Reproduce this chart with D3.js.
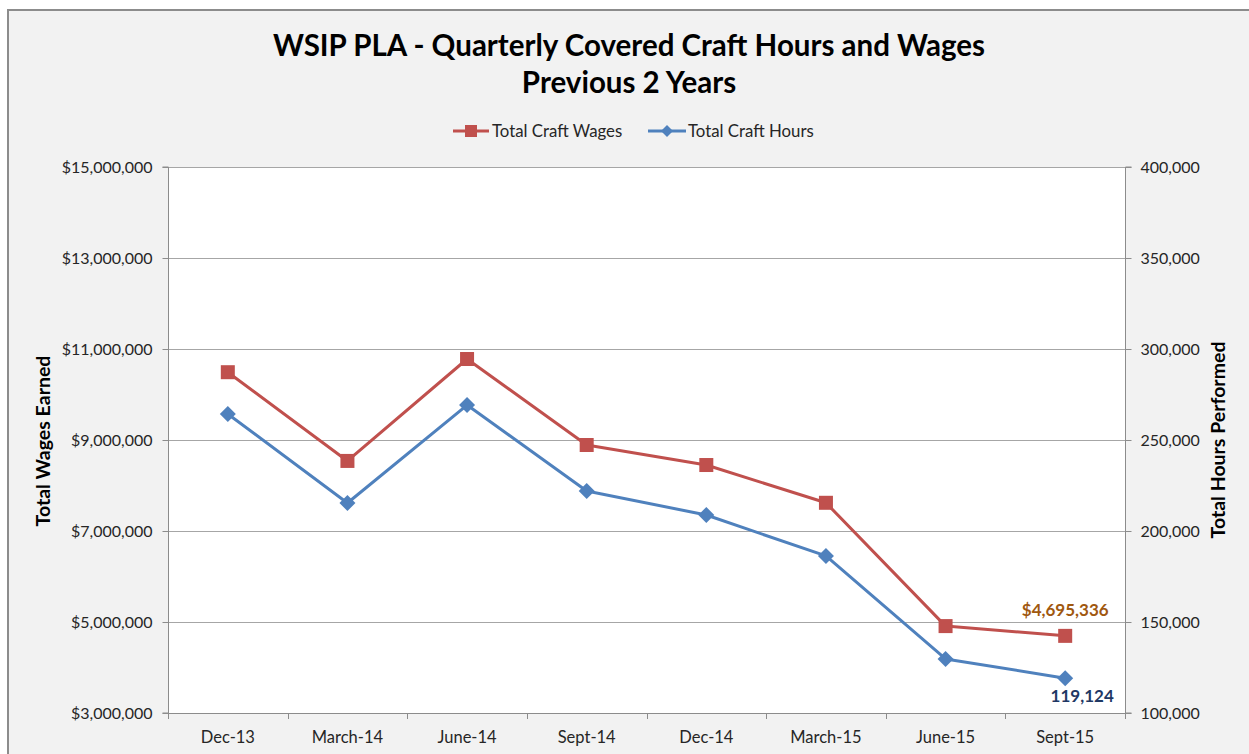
<!DOCTYPE html>
<html><head><meta charset="utf-8">
<script src="https://cdn.jsdelivr.net/npm/d3@7"></script>
<style>body{margin:0;background:#fff;} svg{display:block;}</style>
</head><body>
<svg id="c" width="1249" height="754"></svg>
<script>
const categories = ["Dec-13","March-14","June-14","Sept-14","Dec-14","March-15","June-15","Sept-15"];
const wages = [10490000, 8540000, 10780000, 8890000, 8450000, 7620000, 4910000, 4695336];
const hours = [264300, 215400, 269200, 222000, 208800, 186300, 129700, 119124];
const wageTicks = [3000000,5000000,7000000,9000000,11000000,13000000,15000000];
const hourTicks = [100000,150000,200000,250000,300000,350000,400000];

const FONT = "Lato, 'Open Sans', sans-serif";
const svg = d3.select("#c");
const m = {l:168, r:1125, t:167, b:713};

// background
svg.append("rect").attr("x",8).attr("y",10).attr("width",1241).attr("height",744).attr("fill","#f2f2f2");
svg.append("line").attr("x1",7).attr("x2",1249).attr("y1",10).attr("y2",10).attr("stroke","#8c8c8c").attr("stroke-width",2);
svg.append("line").attr("x1",8).attr("x2",8).attr("y1",9).attr("y2",754).attr("stroke","#8c8c8c").attr("stroke-width",2);

svg.append("rect").attr("x",m.l).attr("y",m.t).attr("width",m.r-m.l).attr("height",m.b-m.t).attr("fill","#fff");

const x = d3.scaleBand().domain(categories).range([m.l,m.r]);
const yL = d3.scaleLinear().domain([3000000,15000000]).range([m.b,m.t]);
const yR = d3.scaleLinear().domain([100000,400000]).range([m.b,m.t]);

// gridlines
svg.append("g").selectAll("line").data(wageTicks).join("line")
  .attr("x1",m.l).attr("x2",m.r).attr("y1",d=>Math.round(yL(d))+0.5).attr("y2",d=>Math.round(yL(d))+0.5)
  .attr("stroke","#a6a6a6").attr("stroke-width",1);

// axes
const axL = svg.append("g").attr("transform",`translate(${m.l+0.5},0)`)
  .call(d3.axisLeft(yL).tickValues(wageTicks).tickSize(6).tickPadding(10).tickFormat(d=>"$"+d3.format(",")(d)));
const axR = svg.append("g").attr("transform",`translate(${m.r+0.5},0)`)
  .call(d3.axisRight(yR).tickValues(hourTicks).tickSize(6).tickPadding(9).tickFormat(d3.format(",")));
const axB = svg.append("g").attr("transform",`translate(0,${m.b+0.5})`)
  .call(d3.axisBottom(x).tickSize(0).tickPadding(18));
[axL,axR,axB].forEach(a=>{
  a.selectAll("path").attr("stroke","#8c8c8c");
  a.selectAll("line").attr("stroke","#8c8c8c");
  a.selectAll("text").attr("font-family",FONT).attr("font-size",16).attr("fill","#262626");
});
axB.selectAll("text").attr("font-size",16.5);
axL.select("path").attr("d",`M-6,${m.t}H0V${m.b}H-6`);
axR.select("path").attr("d",`M6,${m.t}H0V${m.b}H6`);
axB.select("path").attr("d",`M${m.l},0H${m.r}`);
// category boundary ticks
const bounds = categories.map(c=>x(c)).concat([m.r]);
svg.append("g").selectAll("line").data(bounds).join("line")
  .attr("x1",d=>Math.round(d)+0.5).attr("x2",d=>Math.round(d)+0.5).attr("y1",m.b).attr("y2",m.b+6)
  .attr("stroke","#8c8c8c");

const cx = d => x(d)+x.bandwidth()/2;
const red = "#c0504d", blue = "#4f81bd";

// lines
svg.append("path").datum(wages.map((v,i)=>[cx(categories[i]),yL(v)]))
  .attr("d",d3.line()).attr("fill","none").attr("stroke",red).attr("stroke-width",3).attr("stroke-linejoin","round");
svg.append("path").datum(hours.map((v,i)=>[cx(categories[i]),yR(v)]))
  .attr("d",d3.line()).attr("fill","none").attr("stroke",blue).attr("stroke-width",3).attr("stroke-linejoin","round");

// markers
svg.append("g").selectAll("rect").data(wages).join("rect")
  .attr("x",(d,i)=>cx(categories[i])-7).attr("y",d=>yL(d)-7).attr("width",14).attr("height",14).attr("fill",red);
svg.append("g").selectAll("path").data(hours).join("path")
  .attr("transform",(d,i)=>`translate(${cx(categories[i])},${yR(d)})`)
  .attr("d","M0,-8L8,0L0,8L-8,0Z").attr("fill",blue);

// data labels
const last = categories.length-1;
svg.append("text").attr("x",cx(categories[last])).attr("y",yL(wages[last])-20)
  .attr("text-anchor","middle").attr("font-family",FONT).attr("font-weight","bold").attr("font-size",17)
  .attr("fill","#a0580f").text("$"+d3.format(",")(wages[last]));
svg.append("text").attr("x",cx(categories[last])+17).attr("y",yR(hours[last])+24)
  .attr("text-anchor","middle").attr("font-family",FONT).attr("font-weight","bold").attr("font-size",17)
  .attr("fill","#1f3864").text(d3.format(",")(hours[last]));

// title
svg.append("text").attr("x",629).attr("y",56).attr("text-anchor","middle").attr("font-family",FONT)
  .attr("font-weight","bold").attr("font-size",29.5).attr("fill","#000").text("WSIP PLA - Quarterly Covered Craft Hours and Wages");
svg.append("text").attr("x",629).attr("y",93).attr("text-anchor","middle").attr("font-family",FONT)
  .attr("font-weight","bold").attr("font-size",29.5).attr("fill","#000").text("Previous 2 Years");

// axis titles
svg.append("text").attr("transform","translate(50,441) rotate(-90)").attr("text-anchor","middle")
  .attr("font-family",FONT).attr("font-weight","bold").attr("font-size",19.5).attr("fill","#000").text("Total Wages Earned");
svg.append("text").attr("transform","translate(1225,440) rotate(-90)").attr("text-anchor","middle")
  .attr("font-family",FONT).attr("font-weight","bold").attr("font-size",19.5).attr("fill","#000").text("Total Hours Performed");

// legend
const lg = svg.append("g").attr("font-family",FONT).attr("font-size",16.8).attr("fill","#262626");
lg.append("line").attr("x1",453).attr("x2",489).attr("y1",131).attr("y2",131).attr("stroke",red).attr("stroke-width",3);
lg.append("rect").attr("x",465).attr("y",125).attr("width",12).attr("height",12).attr("fill",red);
lg.append("text").attr("x",492).attr("y",137).text("Total Craft Wages");
lg.append("line").attr("x1",648).attr("x2",686).attr("y1",131).attr("y2",131).attr("stroke",blue).attr("stroke-width",3);
lg.append("path").attr("transform","translate(667,131)").attr("d","M0,-6L6,0L0,6L-6,0Z").attr("fill",blue);
lg.append("text").attr("x",688).attr("y",137).text("Total Craft Hours");
</script>
</body></html>
